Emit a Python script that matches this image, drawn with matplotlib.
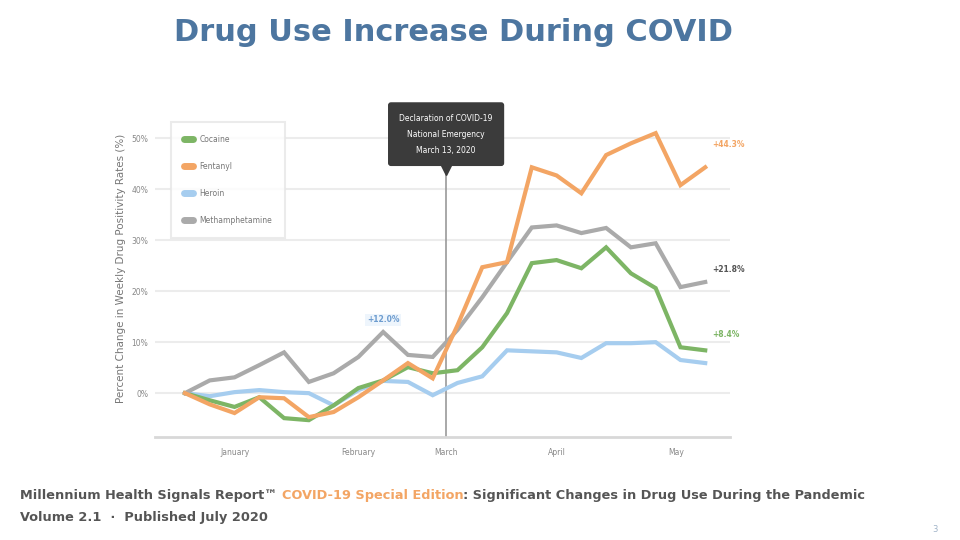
import matplotlib
matplotlib.use("Agg")
import matplotlib.pyplot as plt
import numpy as np

# ---- data (weekly % change in positivity vs baseline) ----
weeks = list(range(22))
cocaine = [0, -1.4, -2.7, -0.8, -4.9, -5.3, -2.4, 1.0, 2.5, 5.1, 3.9, 4.5, 9.0, 15.7, 25.5, 26.1, 24.5, 28.6, 23.5, 20.6, 9.0, 8.4]
fentanyl = [0, -2.2, -3.9, -0.8, -1.0, -4.7, -3.7, -0.8, 2.5, 5.9, 2.9, 13.3, 24.7, 25.7, 44.3, 42.7, 39.2, 46.7, 49.0, 51.0, 40.8, 44.3]
heroin = [0, -0.6, 0.2, 0.6, 0.2, 0.0, -2.4, 0.6, 2.4, 2.2, -0.4, 2.0, 3.3, 8.4, 8.2, 8.0, 6.9, 9.8, 9.8, 10.0, 6.5, 5.9]
meth = [0, 2.5, 3.1, 5.5, 8.0, 2.2, 3.9, 7.1, 12.0, 7.5, 7.1, 12.4, 18.8, 25.7, 32.5, 32.9, 31.4, 32.4, 28.6, 29.4, 20.8, 21.8]
series_names = ["Cocaine", "Fentanyl", "Heroin", "Methamphetamine"]
month_labels = ["January", "February", "March", "April", "May"]
month_pos = [2, 7, 10.54, 15, 19.83]
yticks = [0, 10, 20, 30, 40, 50]
emergency_x = 10.54
end_labels = ["+44.3%", "+21.8%", "+8.4%"]
pre_label = "+12.0%"

colors = {"Cocaine": "#7db565", "Fentanyl": "#f3a564", "Heroin": "#a6cdef", "Methamphetamine": "#aaaaaa"}

fig = plt.figure(figsize=(9.6, 5.4), dpi=100)
fig.patch.set_facecolor("white")
ax = fig.add_axes([155/960, 1-437/540, (730-155)/960, (437-100)/540])

ax.set_xlim(-1.21, 22.0)
ax.set_ylim(-8.6, 57.5)

for y in yticks:
    ax.axhline(y, color="#ececec", lw=1.5, zorder=0)

data = {"Cocaine": cocaine, "Fentanyl": fentanyl, "Heroin": heroin, "Methamphetamine": meth}
order = ["Heroin", "Cocaine", "Methamphetamine", "Fentanyl"]
for name in order:
    ax.plot(weeks, data[name], color=colors[name], lw=3.0, solid_joinstyle="miter", zorder=3)

# legend proxies in set order
handles = [plt.Line2D([], [], color=colors[n], lw=5, solid_capstyle="round") for n in series_names]
leg = ax.legend(handles, series_names, loc="upper left", bbox_to_anchor=(0.021, 0.947),
                fontsize=5.5, handlelength=1.2, labelspacing=2.35, borderpad=1.7,
                frameon=True, fancybox=False, labelcolor="#777777")
leg.get_frame().set_edgecolor("#e6e6e6")
leg.get_frame().set_linewidth(1.5)
leg.set_zorder(5)

for s in ["top", "right", "left"]:
    ax.spines[s].set_visible(False)
ax.spines["bottom"].set_color("#d8d8d8")
ax.spines["bottom"].set_linewidth(2)

ax.set_yticks(yticks)
ax.set_yticklabels([f"{v}%" for v in yticks], fontsize=5.5, color="#888888")
ax.set_xticks(month_pos)
ax.set_xticklabels(month_labels, fontsize=5.5, color="#888888")
ax.tick_params(axis="x", length=0, pad=8)
ax.tick_params(axis="y", length=0, pad=5)

ax.set_ylabel("Percent Change in Weekly Drug Positivity Rates (%)", fontsize=7.5, color="#777777", labelpad=4)

# emergency line and callout
ax.plot([emergency_x, emergency_x], [-8.6, 43.5], color="#999999", lw=1.2, zorder=2)
ax.plot([emergency_x], [43.8], marker="v", color="#3b3b3b", markersize=7, zorder=6)
ax.text(emergency_x, 50.8, "Declaration of COVID-19\nNational Emergency\nMarch 13, 2020",
        ha="center", va="center", color="white", fontsize=5.5, linespacing=2.0, zorder=6,
        bbox=dict(boxstyle="round,pad=1.4,rounding_size=0.3", fc="#3b3b3b", ec="#3b3b3b"))

# end labels
ax.text(21.3, fentanyl[-1] + 4.5, end_labels[0], color=colors["Fentanyl"], fontsize=5.5, fontweight="bold", va="center")
ax.text(21.3, meth[-1] + 2.5, end_labels[1], color="#555555", fontsize=5.5, fontweight="bold", va="center")
ax.text(21.3, cocaine[-1] + 3.2, end_labels[2], color=colors["Cocaine"], fontsize=5.5, fontweight="bold", va="center")
ax.text(8, meth[8] + 2.4, pre_label, color="#6d9ccf", fontsize=5.5, fontweight="bold", ha="center", va="center",
        bbox=dict(boxstyle="square,pad=0.2", fc="#eef5fc", ec="none"))

# title
fig.text(0.472, 0.939, "Drug Use Increase During COVID", ha="center", va="center",
         fontsize=22, fontweight="bold", color="#4d76a0")

# footer
fs = 9.3
fx, fy = 20/960, 1-496/540
t1 = fig.text(fx, fy, "Millennium Health Signals Report\u2122 ", fontsize=fs, fontweight="bold", color="#555555", va="center")
fig.canvas.draw()
bb = t1.get_window_extent()
t2 = fig.text(bb.x1/960, fy, "COVID-19 Special Edition", fontsize=fs, fontweight="bold", color="#f3a564", va="center")
fig.canvas.draw()
bb2 = t2.get_window_extent()
fig.text(bb2.x1/960, fy, ": Significant Changes in Drug Use During the Pandemic", fontsize=fs, fontweight="bold", color="#555555", va="center")
fig.text(fx, 1-518/540, "Volume 2.1  \u00b7  Published July 2020", fontsize=fs, fontweight="bold", color="#555555", va="center")
fig.text(935/960, 1-530/540, "3", fontsize=6, color="#9fb3c8", ha="center", va="center")

fig.savefig("out.png", dpi=100, facecolor="white")
